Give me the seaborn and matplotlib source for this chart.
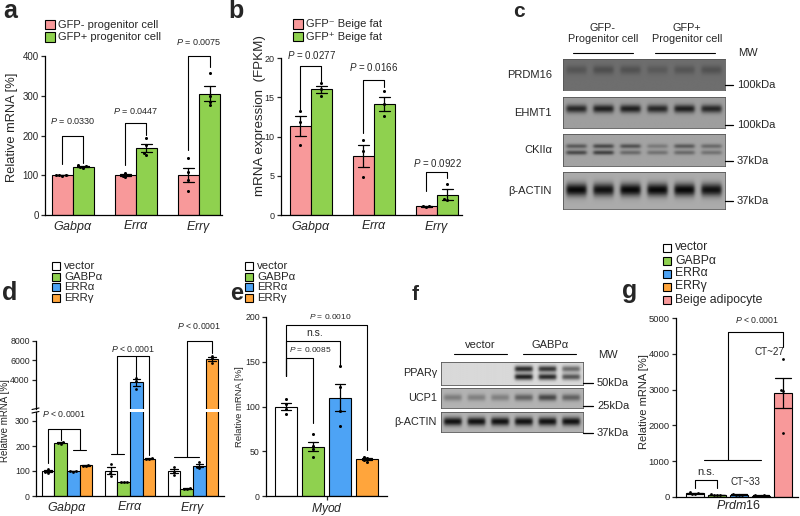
import numpy as np
import pandas as pd
import matplotlib
matplotlib.use("Agg")
import matplotlib.pyplot as plt
import matplotlib.transforms as mtransforms
from matplotlib.lines import Line2D
from matplotlib.patches import Rectangle
import seaborn as sns

sns.set_style("ticks")
plt.rcParams["font.family"] = ["Liberation Sans", "DejaVu Sans"]
plt.rcParams["mathtext.fontset"] = "custom"
plt.rcParams["mathtext.rm"] = "Liberation Sans"
plt.rcParams["mathtext.it"] = "Liberation Sans:italic"
plt.rcParams["mathtext.bf"] = "Liberation Sans:bold"
plt.rcParams["axes.linewidth"] = 0.9
plt.rcParams["axes.edgecolor"] = "black"

PINK, GREEN, BLUE, ORANGE = "#F8999A", "#8FD14F", "#4DA3F5", "#FFA53C"

# ---------------- data ----------------
genes = ["$Gabp\\alpha$", "$Err\\alpha$", "$Err\\gamma$"]

a_groups = ["GFP- progenitor cell", "GFP+ progenitor cell"]
a_gfp_neg = [[99, 100, 101, 100], [106, 95, 98, 101], [143, 108, 88, 61]]
a_gfp_pos = [[120, 125, 119, 124], [194, 175, 155, 150], [358, 300, 285, 277]]
a_pvalues = ["0.0330", "0.0447", "0.0075"]

b_groups = ["GFP⁻ Beige fat", "GFP⁺ Beige fat"]
b_gfp_neg = [[13.2, 11.9, 8.9], [9.5, 8.1, 4.9], [1.2, 1.1, 1.0]]
b_gfp_pos = [[16.8, 16.1, 15.2], [15.8, 14.1, 12.6], [3.9, 2.0, 1.9]]
b_pvalues = ["0.0277", "0.0166", "0.0922"]

c_headers = ["GFP-\nProgenitor cell", "GFP+\nProgenitor cell"]
c_rows = ["PRDM16", "EHMT1", "CKIIα", "β-ACTIN"]
c_mw = ["100kDa", "100kDa", "37kDa", "37kDa"]
c_prdm16 = [0.22, 0.28, 0.25, 0.18, 0.22, 0.25]
c_ehmt1 = [0.75, 0.8, 0.8, 0.75, 0.8, 0.75]
c_ckii_upper = [0.45, 0.55, 0.5, 0.25, 0.45, 0.35]
c_ckii_lower = [0.55, 0.6, 0.35, 0.3, 0.35, 0.3]
c_actin = [0.95, 0.9, 0.95, 0.95, 0.95, 0.9]

mod_groups = ["vector", "GABPα", "ERRα", "ERRγ"]
d_vector = [[110, 96, 94], [128, 92, 82], [118, 97, 85]]
d_gabpa = [[216, 213, 210], [58, 56, 57], [30, 31, 29]]
d_erra = [[102, 99, 98], [4200, 3900, 3100], [135, 118, 113]]
d_errg = [[125, 120, 122], [152, 150, 148], [6500, 6200, 5750]]

e_vector = [108, 103, 97, 92]
e_gabpa = [69, 56, 52, 44]
e_erra = [145, 122, 95, 78]
e_errg = [44, 42, 40, 38]

f_headers = ["vector", "GABPα"]
f_rows = ["PPARγ", "UCP1", "β-ACTIN"]
f_mw = ["50kDa", "25kDa", "37kDa"]
f_ppar_upper = [0, 0, 0, 0.8, 0.75, 0.5]
f_ppar_lower = [0, 0, 0, 0.85, 0.8, 0.6]
f_ucp1 = [0.3, 0.28, 0.28, 0.45, 0.6, 0.45]
f_actin = [0.9, 0.9, 0.9, 0.9, 0.9, 0.9]

g_groups = ["vector", "GABPα", "ERRα", "ERRγ", "Beige adipocyte"]
g_vector = [150, 110, 95, 85]
g_gabpa = [80, 60, 55, 45]
g_erra = [85, 65, 55, 45]
g_errg = [55, 45, 35, 30]
g_beige = [3850, 3000, 2950, 1800]

# ---------------- helpers ----------------
W, H = 800, 516
fig = plt.figure(figsize=(W / 100, H / 100), dpi=100)
PX = mtransforms.Affine2D().scale(1 / W, -1 / H).translate(0, 1) + fig.transFigure


def add_ax(x0, y0, x1, y1):
    return fig.add_axes([x0 / W, 1 - y1 / H, (x1 - x0) / W, (y1 - y0) / H])


def ftext(x, y, s, **kw):
    kw.setdefault("ha", "center")
    kw.setdefault("va", "center")
    fig.text(x, y, s, transform=PX, **kw)


def fline(xs, ys, lw=0.8):
    fig.add_artist(Line2D(xs, ys, transform=PX, color="black", lw=lw))


def legend(x, y, dy, box, labels, colors, size):
    for i, (lab, col) in enumerate(zip(labels, colors)):
        fig.add_artist(Rectangle((x, y + i * dy - box / 2), box, box, transform=PX,
                                 facecolor=col, edgecolor="black", lw=0.8))
        ftext(x + box + 4, y + i * dy, lab, ha="left", fontsize=size)


def pos(g, h, n, slot):
    return g + (h - (n - 1) / 2) * slot


def bar_table(series, labels, slot):
    n = len(series)
    rows = []
    for h, (per_gene, lab) in enumerate(zip(series, labels)):
        for g, reps in enumerate(per_gene):
            for v in reps:
                rows.append({"pos": pos(g, h, n, slot), "group": lab, "value": v})
    return pd.DataFrame(rows)


def draw_bars(ax, df, labels, colors, width, capsize, dot):
    sns.barplot(data=df, x="pos", y="value", hue="group", hue_order=labels,
                palette=dict(zip(labels, colors)), native_scale=True, dodge=False,
                orient="x", width=width, errorbar="se", capsize=capsize,
                err_kws={"color": "black", "linewidth": 0.9}, saturation=1,
                edgecolor="black", linewidth=0.8, legend=False, ax=ax)
    sns.swarmplot(data=df, x="pos", y="value", native_scale=True, orient="x",
                  color="black", size=dot, linewidth=0, zorder=4, ax=ax)
    ax.set_xlabel("")
    ax.set_ylabel("")


def style(ax, ylim, yticks, xlim, tick_size=7):
    ax.set_ylim(*ylim)
    ax.set_yticks(yticks)
    ax.set_xlim(*xlim)
    sns.despine(ax=ax)
    ax.tick_params(axis="y", length=3, width=0.9, labelsize=tick_size, pad=1.5)
    ax.tick_params(axis="x", length=0, labelsize=9, pad=3)


def bracket(ax, x0, x1, top, left_end, right_end):
    ax.plot([x0, x0, x1, x1], [left_end, top, top, right_end],
            color="black", lw=0.8, clip_on=False)


def draw_blot(ax, bands, background):
    rows, cols = 60, 240
    yy = (np.arange(rows) + 0.5)[:, None] / rows
    xx = (np.arange(cols) + 0.5)[None, :] / cols * 6
    lane = np.minimum(xx.astype(int), 5)
    dist = np.abs(xx - lane - 0.5)
    xprof = 1 / (1 + np.exp((dist - 0.37) / 0.035))
    img = np.full((rows, cols), background)
    for centre, spread, levels in bands:
        lev = np.asarray(levels)[lane]
        img = img + (1 - img) * lev * xprof * np.exp(-((yy - centre) / spread) ** 2)
    ax.imshow(img, cmap="gray_r", vmin=0, vmax=1, aspect="auto", interpolation="bilinear")
    ax.set_xticks([])
    ax.set_yticks([])
    for sp in ax.spines.values():
        sp.set_visible(True)
        sp.set_linewidth(0.6)
        sp.set_color("#555555")


# ---------------- panel a ----------------
slot2 = 1 / 3
ax_a = add_ax(45, 56, 222, 215)
draw_bars(ax_a, bar_table([a_gfp_neg, a_gfp_pos], a_groups, slot2), a_groups,
          [PINK, GREEN], 1.0, 0.57, 2.2)
style(ax_a, (0, 400), [0, 100, 200, 300, 400], (-0.444, 2.365))
ax_a.set_xticks(range(3), genes)
for g, (top, le, re, ty) in enumerate([(200, 128, 130, 236), (232, 125, 201, 262),
                                       (400, 163, 373, 434)]):
    bracket(ax_a, pos(g, 0, 2, slot2), pos(g, 1, 2, slot2), top, le, re)
    ax_a.text(g, ty, f"$P$ = {a_pvalues[g]}", ha="center", va="center", fontsize=6.5,
              clip_on=False)
legend(45, 24.5, 12.5, 9.5, a_groups, [PINK, GREEN], 8)
ftext(12, 127, "Relative mRNA [%]", rotation=90, fontsize=9.3)
ftext(3, 18, "a", ha="left", va="baseline", fontsize=18, fontweight="bold")

# ---------------- panel b ----------------
ax_b = add_ax(281, 58, 462, 215)
draw_bars(ax_b, bar_table([b_gfp_neg, b_gfp_pos], b_groups, slot2), b_groups,
          [PINK, GREEN], 1.0, 0.5, 2.2)
style(ax_b, (0, 20), [0, 5, 10, 15, 20], (-0.476, 2.397), tick_size=6.5)
ax_b.set_xticks(range(3), genes)
for g, (top, le, re, ty) in enumerate([(19.0, 13.4, 16.9, 20.4), (17.2, 10.4, 16.3, 18.9),
                                       (5.5, 3.1, 4.7, 6.6)]):
    bracket(ax_b, pos(g, 0, 2, slot2), pos(g, 1, 2, slot2), top, le, re)
    ax_b.text(g, ty, f"$P$ = {b_pvalues[g]}", ha="center", va="center", fontsize=7,
              clip_on=False)
legend(293, 24, 12.5, 9.5, b_groups, [PINK, GREEN], 8)
ftext(260, 116, "mRNA expression  (FPKM)", rotation=90, fontsize=9.6)
ftext(228, 18, "b", ha="left", va="baseline", fontsize=18, fontweight="bold")

# ---------------- panel c ----------------
c_bands = [
    ([(0.35, 0.14, c_prdm16)], 0.57),
    ([(0.38, 0.13, c_ehmt1)], 0.38),
    ([(0.38, 0.07, c_ckii_upper), (0.58, 0.07, c_ckii_lower)], 0.36),
    ([(0.48, 0.17, c_actin)], 0.33),
]
c_spans = [(59, 90), (97, 128), (134, 166), (172, 209)]
c_marks = [85, 125, 161, 201]
for (bands, bg), (y0, y1), name, mw, ym in zip(c_bands, c_spans, c_rows, c_mw, c_marks):
    draw_blot(add_ax(563, y0, 725, y1), bands, bg)
    ftext(552, (y0 + y1) / 2, name, ha="right", fontsize=8)
    fline([725, 733], [ym, ym], lw=0.9)
    ftext(737, ym, mw, ha="left", fontsize=8)
for cx, (x0, x1), head in zip([603, 687], [(573, 633), (655, 715)], c_headers):
    ftext(cx, 33.5, head, fontsize=7.8, linespacing=1.15)
    fline([x0, x1], [53, 53], lw=0.8)
ftext(738, 53, "MW", ha="left", fontsize=8)
ftext(513, 17, "c", ha="left", va="baseline", fontsize=15, fontweight="bold")

# ---------------- panel d ----------------
slot4 = 0.2
d_split = 335
d_series = [d_vector, d_gabpa, d_erra, d_errg]
mod_colors = ["white", GREEN, BLUE, ORANGE]
d_df = bar_table(d_series, mod_groups, slot4)
d_top = add_ax(36, 341, 224, 409)
d_low = add_ax(36, 412.25, 224, 496)
for ax in (d_top, d_low):
    draw_bars(ax, d_df, mod_groups, mod_colors, 1.0, 0.6, 2)
style(d_top, (1000, 8000), [4000, 6000, 8000], (-0.49, 2.49), tick_size=6.3)
style(d_low, (0, d_split), [0, 100, 200, 300], (-0.49, 2.49), tick_size=6.3)
sns.despine(ax=d_top, bottom=True)
d_top.set_xticks([])
d_low.set_xticks(range(3), genes)
fline([32, 39], [409.5, 408], lw=0.8)
fline([32, 39], [413, 411.5], lw=0.8)

FIGINV = fig.transFigure.inverted()


def d_xy(x, v):
    ax = d_top if v > d_split else d_low
    return FIGINV.transform(ax.transData.transform((x, v)))


def d_path(points):
    xy = np.array([d_xy(x, v) for x, v in points])
    fig.add_artist(Line2D(xy[:, 0], xy[:, 1], transform=fig.transFigure, color="black", lw=0.8))


def d_label(x, v, s):
    fx, fy = d_xy(x, v)
    fig.text(fx, fy, s, ha="center", va="center", fontsize=6.3)


p = lambda g, h: pos(g, h, 4, slot4)
m01 = (p(0, 2) + p(0, 3)) / 2
d_path([(p(0, 0), 132), (p(0, 0), 270), (m01, 270), (m01, 185)])
d_path([(p(0, 1), 270), (p(0, 1), 226)])
d_path([(p(0, 2), 185), (p(0, 3), 185)])
d_label((p(0, 0) + m01) / 2, 328, "$P$ < 0.0001")
m11 = (p(1, 0) + p(1, 1)) / 2
d_path([(m11, 168), (m11, 6460), (p(1, 3), 6460), (p(1, 3), 165)])
d_path([(p(1, 0), 168), (p(1, 1), 168)])
d_path([(p(1, 2), 6460), (p(1, 2), 4250)])
d_label((m11 + p(1, 3)) / 2, 7150, "$P$ < 0.0001")
d_path([(p(2, 1), 156), (p(2, 1), 8000), (p(2, 3), 8000), (p(2, 3), 6770)])
d_path([(p(2, 0), 156), (p(2, 2), 156)])
d_label((p(2, 1) + p(2, 3)) / 2, 9540, "$P$ < 0.0001")
legend(52, 266, 10.7, 8, mod_groups, mod_colors, 8.2)
ftext(5.5, 421, "Relative mRNA [%]", rotation=90, fontsize=7)
ftext(2, 300, "d", ha="left", va="baseline", fontsize=18, fontweight="bold")

# ---------------- panel e ----------------
slot_e = 0.223
ax_e = add_ax(266, 317, 387, 496)
draw_bars(ax_e, bar_table([[e_vector], [e_gabpa], [e_erra], [e_errg]], mod_groups, slot_e),
          mod_groups, mod_colors, 0.85, 0.4, 2.2)
style(ax_e, (0, 200), [0, 50, 100, 150, 200], (-0.5, 0.5), tick_size=6.3)
ax_e.set_xticks([0], ["$Myod$"])
ax_e.tick_params(axis="x", length=3, width=0.9, pad=0.5, labelsize=8.7)
pe = lambda h: pos(0, h, 4, slot_e)
bracket(ax_e, pe(0), pe(3), 191, 134, 51)
bracket(ax_e, pe(0), pe(2), 173, 134, 146)
bracket(ax_e, pe(0), pe(1), 154, 134, 82)
ax_e.text(0.03, 201, "$P$ = 0.0010", ha="center", va="center", fontsize=6, clip_on=False)
ax_e.text(pe(1) + 0.01, 182, "n.s.", ha="center", va="center", fontsize=7.5, clip_on=False)
ax_e.text(pe(1) - 0.02, 164, "$P$ = 0.0085", ha="center", va="center", fontsize=6,
          clip_on=False)
legend(245, 266, 10.7, 8, mod_groups, mod_colors, 8.2)
ftext(239.5, 407, "Relative mRNA [%]", rotation=90, fontsize=6.8)
ftext(230, 300, "e", ha="left", va="baseline", fontsize=17, fontweight="bold")

# ---------------- panel f ----------------
f_bands = [
    ([(0.33, 0.13, f_ppar_upper), (0.66, 0.13, f_ppar_lower)], 0.15),
    ([(0.5, 0.16, f_ucp1)], 0.3),
    ([(0.5, 0.2, f_actin)], 0.3),
]
f_spans = [(362, 385), (388, 408), (412, 432)]
f_marks = [383, 406, 433]
for (bands, bg), (y0, y1), name, mw, ym in zip(f_bands, f_spans, f_rows, f_mw, f_marks):
    draw_blot(add_ax(441, y0, 583, y1), bands, bg)
    ftext(437, (y0 + y1) / 2, name, ha="right", fontsize=7.8)
    fline([583, 593], [ym, ym], lw=0.9)
    ftext(597, ym, mw, ha="left", fontsize=8)
for cx, (x0, x1), head in zip([480, 550], [(454, 507), (523, 576)], f_headers):
    ftext(cx, 345, head, fontsize=8)
    fline([x0, x1], [354, 354], lw=0.8)
ftext(598, 355, "MW", ha="left", fontsize=8)
ftext(412, 300, "f", ha="left", va="baseline", fontsize=15, fontweight="bold")

# ---------------- panel g ----------------
slot_g = 0.18
g_colors = ["white", GREEN, BLUE, ORANGE, PINK]
ax_g = add_ax(676, 318, 798, 497)
draw_bars(ax_g, bar_table([[g_vector], [g_gabpa], [g_erra], [g_errg], [g_beige]],
                          g_groups, slot_g),
          g_groups, g_colors, 0.84, 0.75, 2)
style(ax_g, (0, 5000), [0, 1000, 2000, 3000, 4000, 5000], (-0.516, 0.484), tick_size=6.8)
ax_g.set_xticks([0], ["$Prdm16$"])
ax_g.tick_params(axis="x", pad=1.5)
pg = lambda h: pos(0, h, 5, slot_g)
mg = (pg(0) + pg(3)) / 2
bracket(ax_g, mg, pg(4), 4609, 1034, 4190)
ax_g.plot([pg(0) + 0.4 * slot_g, pg(3)], [1034, 1034], color="black", lw=0.8)
bracket(ax_g, pg(0), pg(1), 475, 250, 250)
ax_g.text(0.15, 4944, "$P$ < 0.0001", ha="center", va="center", fontsize=6.3, clip_on=False)
ax_g.text(0.25, 4050, "CT~27", ha="center", va="center", fontsize=7.1)
ax_g.text(0.05, 420, "CT~33", ha="center", va="center", fontsize=7.1)
ax_g.text(pg(0) + slot_g / 2, 700, "n.s.", ha="center", va="center", fontsize=8)
legend(663, 247.5, 13, 8, g_groups, g_colors, 8.8)
ftext(644, 402, "Relative mRNA [%]", rotation=90, fontsize=8)
ftext(622, 298, "g", ha="left", va="baseline", fontsize=18, fontweight="bold")

fig.savefig("out.png", dpi=100)
